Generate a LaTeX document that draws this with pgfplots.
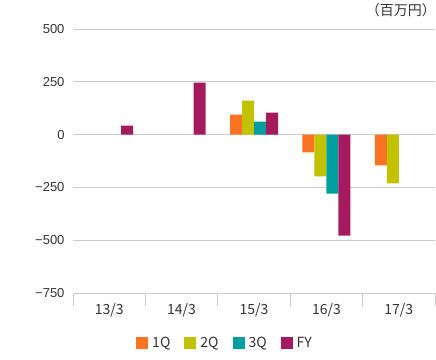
\documentclass[border=0pt]{standalone}
\usepackage{fontspec}
\setmainfont{Liberation Sans}
\newfontfamily\jp{Noto Sans CJK JP}
\usepackage{pgfplots}
\pgfplotsset{compat=1.18}
\definecolor{cA}{HTML}{F97323}
\definecolor{cB}{HTML}{C2C200}
\definecolor{cC}{HTML}{009E9E}
\definecolor{cD}{HTML}{A51A5D}
\definecolor{gridc}{HTML}{CCCCCC}
\definecolor{txt}{HTML}{333333}
\begin{document}
\begin{tikzpicture}
\useasboundingbox (0,0) rectangle (436bp,360bp);
\begin{axis}[
  at={(73bp,67bp)}, anchor=south west,
  scale only axis, width=362bp, height=264bp,
  xmin=-0.5, xmax=4.5, ymin=-750, ymax=500,
  ybar, bar width=12bp, ybar=0pt,
  ytick={-750,-500,-250,0,250,500},
  yticklabels={−750,−500,−250,0,250,500},
  ymajorgrids, grid style={draw=gridc, line width=0.8bp},
  axis line style={draw=none},
  xtick={0,1,2,3,4},
  xticklabels={13/3,14/3,15/3,16/3,17/3},
  minor xtick={-0.5,0.5,1.5,2.5,3.5,4.5},
  major tick length=0pt, minor tick length=13bp,
  tick align=outside, xtick pos=bottom, ytick pos=left,
  minor tick style={draw=gridc, line width=0.8bp},
  yticklabel style={font=\fontsize{13bp}{14bp}\selectfont, text=txt, xshift=-5bp},
  xticklabel style={font=\jp\fontsize{14bp}{15bp}\selectfont, text=txt, yshift=-7bp},
  legend style={draw=none, at={(0.42,-0.19)}, anchor=center,
    font=\jp\fontsize{14bp}{15bp}\selectfont, text=txt,
    legend columns=4, /tikz/every even column/.style={column sep=12bp}},
  legend image code/.code={\fill[#1] (0bp,-6bp) rectangle (12bp,6bp); \path (0bp,0bp) -- (14bp,0bp);},
]
\addplot[fill=cA, draw=none] coordinates {(2,95) (3,-84) (4,-146)};
\addplot[fill=cB, draw=none] coordinates {(2,161) (3,-198) (4,-231)};
\addplot[fill=cC, draw=none] coordinates {(2,62) (3,-279)};
\addplot[fill=cD, draw=none] coordinates {(0,43) (1,246) (2,104) (3,-478)};
\legend{1Q,2Q,3Q,FY}
\end{axis}
\node[anchor=east, font=\jp\fontsize{14bp}{15bp}\selectfont, text=txt, inner sep=0pt] at (436bp,350bp) {（百万円）};
\end{tikzpicture}
\end{document}
